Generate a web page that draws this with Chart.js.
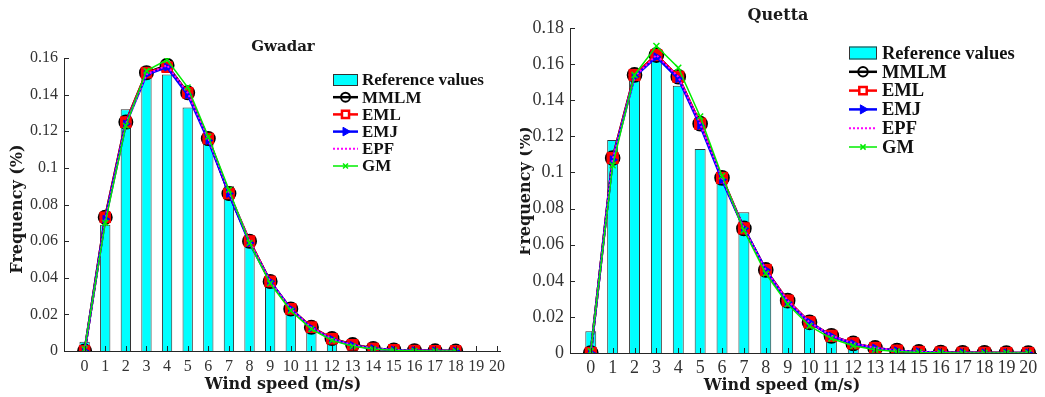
<!DOCTYPE html>
<html>
<head>
<meta charset="utf-8">
<script src="https://cdn.jsdelivr.net/npm/chart.js@4/dist/chart.umd.min.js"></script>
<style>
  html, body { margin: 0; padding: 0; background: #fff; }
  #wrap { position: relative; width: 1045px; height: 397px; overflow: hidden; }
  #left { position: absolute; left: 0; top: 0; }
  #right { position: absolute; left: 520px; top: 0; }
</style>
</head>
<body>
<div id="wrap">
  <canvas id="left" width="520" height="397"></canvas>
  <canvas id="right" width="525" height="397"></canvas>
</div>
<script>
const seriesNames = ["Reference values", "MMLM", "EML", "EMJ", "EPF", "GM"];

// Gwadar, wind speed 0..18 m/s
const gwSpeeds = [0, 1, 2, 3, 4, 5, 6, 7, 8, 9, 10, 11, 12, 13, 14, 15, 16, 17, 18];
const gwRef  = [0.005, 0.069, 0.132, 0.150, 0.151, 0.133, 0.113, 0.090, 0.057, 0.035, 0.021, 0.012, 0.005, 0.002, 0.001, 0.0005, 0.0002, 0.0001, 0.0001];
const gwMMLM = [0.000, 0.073, 0.125, 0.152, 0.156, 0.141, 0.116, 0.086, 0.060, 0.038, 0.023, 0.013, 0.0068, 0.0035, 0.0014, 0.0006, 0.0002, 0.0001, 0.0000];
const gwEML  = [0.000, 0.073, 0.125, 0.152, 0.155, 0.141, 0.116, 0.086, 0.060, 0.038, 0.023, 0.013, 0.0067, 0.0034, 0.0014, 0.0006, 0.0002, 0.0001, 0.0000];
const gwEMJ  = [0.000, 0.072, 0.124, 0.151, 0.155, 0.140, 0.115, 0.086, 0.059, 0.038, 0.023, 0.0125, 0.0064, 0.0031, 0.0013, 0.0005, 0.0002, 0.0001, 0.0000];
const gwEPF  = [0.000, 0.071, 0.124, 0.151, 0.156, 0.141, 0.116, 0.087, 0.060, 0.038, 0.023, 0.0128, 0.0066, 0.0032, 0.0014, 0.0006, 0.0002, 0.0001, 0.0000];
const gwGM   = [0.001, 0.070, 0.123, 0.153, 0.159, 0.144, 0.117, 0.088, 0.059, 0.037, 0.022, 0.012, 0.0058, 0.0026, 0.0011, 0.0004, 0.0001, 0.0000, 0.0000];

// Quetta, wind speed 0..20 m/s
const qtSpeeds = [0, 1, 2, 3, 4, 5, 6, 7, 8, 9, 10, 11, 12, 13, 14, 15, 16, 17, 18, 19, 20];
const qtRef  = [0.012, 0.118, 0.152, 0.163, 0.148, 0.113, 0.094, 0.078, 0.043, 0.027, 0.015, 0.009, 0.004, 0.002, 0.001, 0.0005, 0.0002, 0.0001, 0, 0, 0];
const qtMMLM = [0.000, 0.108, 0.154, 0.165, 0.153, 0.127, 0.097, 0.069, 0.046, 0.029, 0.017, 0.0095, 0.0053, 0.0028, 0.0013, 0.0006, 0.0003, 0.0001, 0.0001, 0, 0];
const qtEML  = [0.000, 0.108, 0.154, 0.165, 0.153, 0.127, 0.097, 0.069, 0.046, 0.029, 0.017, 0.0095, 0.0053, 0.0028, 0.0013, 0.0006, 0.0003, 0.0001, 0.0001, 0, 0];
const qtEMJ  = [0.000, 0.107, 0.153, 0.164, 0.152, 0.126, 0.096, 0.069, 0.046, 0.028, 0.017, 0.0093, 0.0051, 0.0027, 0.0012, 0.0006, 0.0002, 0.0001, 0.0000, 0, 0];
const qtEPF  = [0.000, 0.107, 0.153, 0.165, 0.153, 0.127, 0.097, 0.069, 0.046, 0.029, 0.017, 0.0096, 0.0054, 0.0029, 0.0014, 0.0006, 0.0003, 0.0001, 0.0001, 0, 0];
const qtGM   = [0.001, 0.104, 0.154, 0.170, 0.158, 0.131, 0.098, 0.068, 0.044, 0.027, 0.015, 0.008, 0.004, 0.0018, 0.0008, 0.0003, 0.0001, 0.0000, 0.0000, 0, 0];

const xTicks = [0, 1, 2, 3, 4, 5, 6, 7, 8, 9, 10, 11, 12, 13, 14, 15, 16, 17, 18, 19, 20];
const gwYTicks = [0, 0.02, 0.04, 0.06, 0.08, 0.1, 0.12, 0.14, 0.16];
const qtYTicks = [0, 0.02, 0.04, 0.06, 0.08, 0.1, 0.12, 0.14, 0.16, 0.18];

const AXIS = "#262626";

function pts(xs, ys) {
    return xs.map((x, i) => ({ x: x, y: ys[i] }));
}

function makeDatasets(xs, ref, mmlm, eml, emj, epf, gm, s) {
    return [
        { type: "bar", label: seriesNames[0], data: pts(xs, ref), backgroundColor: "#00ffff",
          borderColor: "#333333", borderWidth: 1, barPercentage: 0.5, categoryPercentage: 1, order: 6 },
        { type: "line", label: seriesNames[1], data: pts(xs, mmlm), borderColor: "#000000", borderWidth: 2.5,
          pointStyle: "circle", pointRadius: 6.5 * s, pointBorderWidth: 2, pointBackgroundColor: "rgba(0,0,0,0)",
          pointBorderColor: "#000000", order: 5, legendRadius: 4.5 * s },
        { type: "line", label: seriesNames[2], data: pts(xs, eml), borderColor: "#ff0000", borderWidth: 2.5,
          pointStyle: "rect", pointRadius: 7.5 * s, pointBorderWidth: 1, pointBackgroundColor: "#ff0000",
          pointBorderColor: "#ff0000", order: 4, legendRadius: 5 * s, legendFill: "#ffffff", legendBorder: 2.5 },
        { type: "line", label: seriesNames[3], data: pts(xs, emj), borderColor: "#0000ff", borderWidth: 2.5,
          pointStyle: "triangle", pointRotation: 90, pointRadius: 4.5 * s, pointBorderWidth: 1,
          pointBackgroundColor: "#0000ff", pointBorderColor: "#0000ff", order: 3, legendRadius: 5 * s },
        { type: "line", label: seriesNames[4], data: pts(xs, epf), borderColor: "#ff00ff", borderWidth: 2,
          borderDash: [2, 2], pointRadius: 0, order: 2 },
        { type: "line", label: seriesNames[5], data: pts(xs, gm), borderColor: "#00ee00", borderWidth: 1.5,
          pointStyle: "crossRot", pointRadius: 4 * s, pointBorderWidth: 1.5, pointBorderColor: "#00ee00",
          order: 1, legendRadius: 3.5 * s }
    ];
}

const decorPlugin = {
    id: "decor",
    afterDraw(chart, args, o) {
        const ctx = chart.ctx;
        const xs = chart.scales.x, ys = chart.scales.y;
        const area = chart.chartArea;
        ctx.save();
        // inward ticks
        ctx.strokeStyle = AXIS;
        ctx.lineWidth = 1;
        ctx.setLineDash([]);
        ctx.beginPath();
        xs.ticks.forEach(t => {
            const px = Math.round(xs.getPixelForValue(t.value)) + 0.5;
            ctx.moveTo(px, area.bottom);
            ctx.lineTo(px, area.bottom - o.tickLen);
        });
        ys.ticks.forEach(t => {
            const py = Math.round(ys.getPixelForValue(t.value)) + 0.5;
            ctx.moveTo(area.left, py);
            ctx.lineTo(area.left + o.tickLen, py);
        });
        ctx.stroke();

        // titles
        ctx.fillStyle = "#1a1a1a";
        ctx.textAlign = "center";
        ctx.textBaseline = "middle";
        ctx.font = "bold " + o.titleSize + "px 'DejaVu Serif'";
        ctx.fillText(o.title, o.titleX, o.titleY);
        ctx.font = "bold " + o.axisSize + "px 'DejaVu Serif'";
        ctx.fillText("Wind speed (m/s)", o.xTitleX, o.xTitleY);
        ctx.save();
        ctx.translate(o.yTitleX, o.yTitleY);
        ctx.rotate(-Math.PI / 2);
        ctx.fillText("Frequency (%)", 0, 0);
        ctx.restore();

        // legend
        const lg = o.legend;
        ctx.textAlign = "left";
        ctx.font = "bold " + lg.size + "px 'Liberation Serif'";
        chart.data.datasets.forEach((ds, i) => {
            const y = lg.y + i * lg.dy;
            const x0 = lg.x, x1 = lg.x + lg.w;
            if (ds.type === "bar") {
                ctx.fillStyle = ds.backgroundColor;
                ctx.fillRect(x0, y - lg.h / 2, lg.w, lg.h);
                ctx.strokeStyle = ds.borderColor;
                ctx.lineWidth = 1;
                ctx.strokeRect(x0 + 0.5, y - lg.h / 2 + 0.5, lg.w - 1, lg.h - 1);
            } else {
                ctx.strokeStyle = ds.borderColor;
                ctx.lineWidth = ds.borderWidth;
                ctx.setLineDash(ds.borderDash || []);
                ctx.beginPath();
                ctx.moveTo(x0, y);
                ctx.lineTo(x1, y);
                ctx.stroke();
                ctx.setLineDash([]);
                if (ds.pointRadius > 0) {
                    ctx.fillStyle = ds.legendFill || ds.pointBackgroundColor || "rgba(0,0,0,0)";
                    ctx.strokeStyle = ds.pointBorderColor;
                    ctx.lineWidth = ds.legendBorder || ds.pointBorderWidth;
                    Chart.helpers.drawPoint(ctx, {
                        pointStyle: ds.pointStyle,
                        rotation: ds.pointRotation || 0,
                        radius: ds.legendRadius,
                        borderWidth: ds.legendBorder || ds.pointBorderWidth
                    }, (x0 + x1) / 2, y);
                }
            }
            ctx.fillStyle = "#111111";
            ctx.fillText(ds.label, lg.textX, y + 1);
        });
        ctx.restore();
    }
};

function makeChart(id, datasets, cfg) {
    return new Chart(document.getElementById(id), {
        type: "bar",
        data: { datasets: datasets },
        plugins: [decorPlugin],
        options: {
            responsive: false,
            animation: false,
            layout: { padding: cfg.padding },
            scales: {
                x: {
                    type: "linear", min: cfg.xMin, max: cfg.xMax, offset: false,
                    grid: { display: false, drawTicks: false, offset: false },
                    border: { display: true, color: AXIS, width: 1 },
                    afterBuildTicks: s => { s.ticks = xTicks.map(v => ({ value: v })); },
                    afterFit: s => { s.height = cfg.xHeight; },
                    ticks: { autoSkip: false, maxRotation: 0, color: "#333333", padding: cfg.xTickPad,
                             font: { family: "'Liberation Serif'", size: cfg.tickSize } }
                },
                y: {
                    min: 0, max: cfg.yMax,
                    grid: { display: false, drawTicks: false },
                    border: { display: true, color: AXIS, width: 1 },
                    afterBuildTicks: s => { s.ticks = cfg.yTicks.map(v => ({ value: v })); },
                    afterFit: s => { s.width = cfg.yWidth; },
                    ticks: { color: "#333333", padding: cfg.yTickPad,
                             font: { family: "'Liberation Serif'", size: cfg.tickSize },
                             callback: v => String(Number(v.toFixed(2))) }
                }
            },
            plugins: {
                legend: { display: false },
                tooltip: { enabled: false },
                decor: cfg.decor
            }
        }
    });
}

makeChart("left", makeDatasets(gwSpeeds, gwRef, gwMMLM, gwEML, gwEMJ, gwEPF, gwGM, 1), {
    padding: { left: 0, right: 20, top: 58, bottom: 0 },
    xMin: -1, xMax: 20.15, yMax: 0.16, yTicks: gwYTicks,
    xHeight: 46, yWidth: 64, tickSize: 16, xTickPad: 6, yTickPad: 6,
    decor: {
        tickLen: 5, title: "Gwadar", titleSize: 15, titleX: 283, titleY: 47,
        axisSize: 16, xTitleX: 283, xTitleY: 385, yTitleX: 18, yTitleY: 209,
        legend: { x: 333, y: 80, dy: 17.2, w: 25, h: 12, textX: 362, size: 17 }
    }
});

makeChart("right", makeDatasets(qtSpeeds, qtRef, qtMMLM, qtEML, qtEMJ, qtEPF, qtGM, 1.05), {
    padding: { left: 0, right: 5, top: 28, bottom: 0 },
    xMin: -0.95, xMax: 20.36, yMax: 0.18, yTicks: qtYTicks,
    xHeight: 44, yWidth: 50, tickSize: 18, xTickPad: 4, yTickPad: 6,
    decor: {
        tickLen: 5, title: "Quetta", titleSize: 16, titleX: 258, titleY: 16,
        axisSize: 16, xTitleX: 262, xTitleY: 386, yTitleX: 6, yTitleY: 191,
        legend: { x: 329, y: 53, dy: 18.8, w: 28, h: 13, textX: 362, size: 18.5 }
    }
});
</script>
</body>
</html>
